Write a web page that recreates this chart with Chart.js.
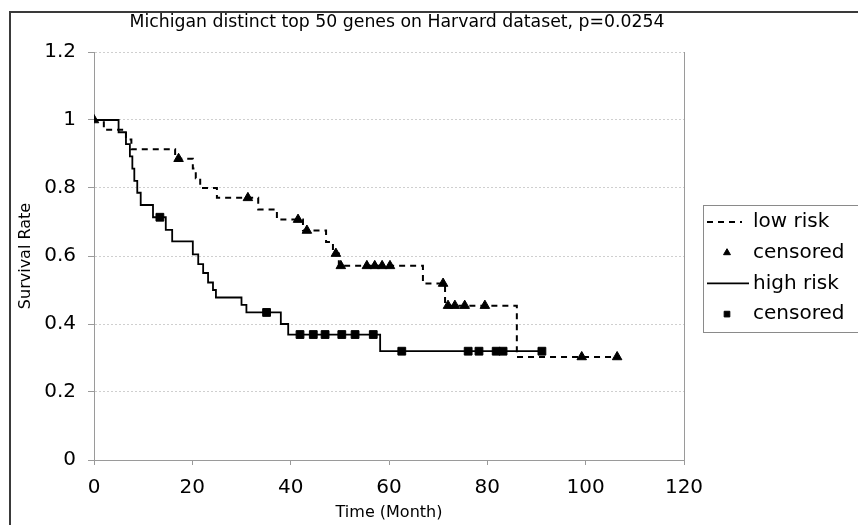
<!DOCTYPE html>
<html><head><meta charset="utf-8">
<script src="https://cdn.jsdelivr.net/npm/chart.js@4.4.1/dist/chart.umd.min.js"></script>
<style>html,body{margin:0;padding:0;background:#fff;overflow:hidden;}</style>
</head><body>
<canvas id="c" width="858" height="525" style="display:block;width:858px;height:525px"></canvas>
<script>
const titleText = "Michigan distinct top 50 genes on Harvard dataset, p=0.0254";
const xAxisTitle = "Time (Month)";
const yAxisTitle = "Survival Rate";
const xTicks = [0, 20, 40, 60, 80, 100, 120];
const yTicks = [0, 0.2, 0.4, 0.6, 0.8, 1, 1.2];
const legendLabels = ["low risk", "censored", "high risk", "censored"];

// Low risk Kaplan-Meier steps (time, survival after the step)
const lowRiskTime = [0, 2, 6.5, 7.6, 16.5, 20.1, 20.7, 21.6, 25.0, 33.4, 37.2, 42.5, 47.2, 48.6, 49.8, 66.9, 71.4, 86.0, 106.4];
const lowRiskSurv = [1, 0.971, 0.943, 0.914, 0.886, 0.857, 0.829, 0.800, 0.771, 0.737, 0.707, 0.675, 0.641, 0.607, 0.571, 0.519, 0.454, 0.303, 0.303];
// Low risk censored marks
const lowCensTime = [0, 17.2, 31.3, 41.5, 43.3, 49.2, 50.2, 55.5, 57.1, 58.6, 60.2, 71.0, 72.0, 73.4, 75.4, 79.5, 99.2, 106.4];
const lowCensSurv = [1, 0.886, 0.771, 0.707, 0.675, 0.607, 0.571, 0.571, 0.571, 0.571, 0.571, 0.519, 0.454, 0.454, 0.454, 0.454, 0.303, 0.303];

// High risk Kaplan-Meier steps
const highRiskTime = [0, 5.0, 6.5, 7.3, 7.8, 8.2, 8.8, 9.5, 12.0, 14.6, 15.9, 20.1, 21.2, 22.2, 23.2, 24.2, 24.8, 30.0, 31.0, 38.0, 39.5, 58.2, 91.1];
const highRiskSurv = [1, 0.964, 0.929, 0.893, 0.857, 0.821, 0.786, 0.750, 0.714, 0.677, 0.643, 0.605, 0.576, 0.550, 0.522, 0.500, 0.478, 0.456, 0.434, 0.400, 0.369, 0.320, 0.320];
// High risk censored marks
const highCensTime = [13.4, 35.1, 41.9, 44.6, 47.0, 50.4, 53.1, 56.8, 62.6, 76.1, 78.3, 81.8, 83.2, 91.1];
const highCensSurv = [0.714, 0.434, 0.369, 0.369, 0.369, 0.369, 0.369, 0.369, 0.320, 0.320, 0.320, 0.320, 0.320, 0.320];

const pts = (xs, ys) => xs.map((x, i) => ({x: x, y: ys[i]}));
const FONT = 'DejaVu Sans';

const decor = {
  id: 'decor',
  beforeDraw(chart) {
    const ctx = chart.ctx;
    ctx.save();
    ctx.fillStyle = '#fff';
    ctx.fillRect(0, 0, chart.width, chart.height);
    ctx.strokeStyle = '#3a3a3a';
    ctx.lineWidth = 2;
    ctx.beginPath();
    ctx.moveTo(10, 540); ctx.lineTo(10, 12); ctx.lineTo(870, 12);
    ctx.stroke();
    ctx.restore();
  },
  afterDraw(chart) {
    const ctx = chart.ctx, a = chart.chartArea;
    const ds = chart.data.datasets;
    ctx.save();
    // right border of plot area
    ctx.strokeStyle = '#9a9a9a'; ctx.lineWidth = 1;
    ctx.beginPath(); ctx.moveTo(a.right + 0.5, a.top); ctx.lineTo(a.right + 0.5, a.bottom); ctx.stroke();
    // title
    ctx.fillStyle = '#000';
    ctx.font = '17.3px "' + FONT + '"';
    ctx.textAlign = 'center'; ctx.textBaseline = 'middle';
    ctx.fillText(titleText, 397, 23);
    // legend
    const lx = 703, ly = 205, lw = 170, lh = 127;
    ctx.strokeStyle = '#8a8a8a'; ctx.lineWidth = 1;
    ctx.strokeRect(lx + 0.5, ly + 0.5, lw, lh);
    ctx.font = '20px "' + FONT + '"';
    ctx.textAlign = 'left';
    for (let i = 0; i < 4; i++) {
      const y = 222 + i * 30.7;
      const d = ds[i];
      if (d.showLine) {
        ctx.save();
        ctx.strokeStyle = d.borderColor; ctx.lineWidth = d.borderWidth;
        ctx.setLineDash(d.borderDash || []);
        ctx.beginPath(); ctx.moveTo(707, y); ctx.lineTo(i === 2 ? 749 : 742, y); ctx.stroke();
        ctx.restore();
      } else {
        ctx.save();
        ctx.fillStyle = d.backgroundColor; ctx.strokeStyle = d.borderColor; ctx.lineWidth = 1;
        Chart.helpers.drawPoint(ctx, {pointStyle: d.pointStyle, radius: 4, rotation: 0, borderWidth: 1}, 727, y);
        ctx.restore();
      }
      ctx.fillStyle = '#000';
      ctx.fillText(legendLabels[i], 753, y);
    }
    ctx.restore();
  }
};

new Chart(document.getElementById('c'), {
  type: 'scatter',
  data: {
    datasets: [
      {label: legendLabels[0], data: pts(lowRiskTime, lowRiskSurv), showLine: true, stepped: 'before',
       borderColor: '#000', borderWidth: 2, borderDash: [6, 5], pointRadius: 0, fill: false, order: 3},
      {label: legendLabels[1], data: pts(lowCensTime, lowCensSurv), showLine: false, pointStyle: 'triangle',
       pointRadius: 5.5, backgroundColor: '#000', borderColor: '#000', borderWidth: 1, order: 1},
      {label: legendLabels[2], data: pts(highRiskTime, highRiskSurv), showLine: true, stepped: 'before',
       borderColor: '#000', borderWidth: 1.8, pointRadius: 0, fill: false, order: 4},
      {label: legendLabels[3], data: pts(highCensTime, highCensSurv), showLine: false, pointStyle: 'rect',
       pointRadius: 5.5, backgroundColor: '#000', borderColor: '#000', borderWidth: 1, order: 2}
    ]
  },
  options: {
    responsive: false,
    animation: false,
    devicePixelRatio: 1,
    layout: {padding: {top: 52, right: 174, bottom: 0, left: 0}},
    plugins: {legend: {display: false}, tooltip: {enabled: false}, title: {display: false}},
    scales: {
      x: {
        type: 'linear', min: 0, max: 120,
        afterBuildTicks: s => { s.ticks = xTicks.map(v => ({value: v})); },
        afterFit: s => { s.height = 65; },
        ticks: {font: {family: FONT, size: 20}, color: '#000', padding: 11, maxRotation: 0},
        grid: {drawOnChartArea: false, drawTicks: true, tickLength: 5, color: '#9a9a9a'},
        border: {color: '#9a9a9a', width: 1},
        title: {display: true, text: xAxisTitle, font: {family: FONT, size: 16}, color: '#000', padding: {top: 0, bottom: 3}}
      },
      y: {
        type: 'linear', min: 0, max: 1.2,
        afterBuildTicks: s => { s.ticks = yTicks.map(v => ({value: v})); },
        afterFit: s => { s.width = 94; },
        ticks: {font: {family: FONT, size: 20}, color: '#000', padding: 12,
                callback: v => String(Math.round(v * 10) / 10)},
        grid: {drawTicks: true, tickLength: 6, color: '#cfcfcf', tickColor: '#9a9a9a', tickBorderDash: []},
        border: {color: '#9a9a9a', width: 1, dash: [2, 2]},
        title: {display: true, text: yAxisTitle, font: {family: FONT, size: 16}, color: '#000', padding: {top: 16, bottom: 0}}
      }
    }
  },
  plugins: [decor]
});
</script>
</body></html>
